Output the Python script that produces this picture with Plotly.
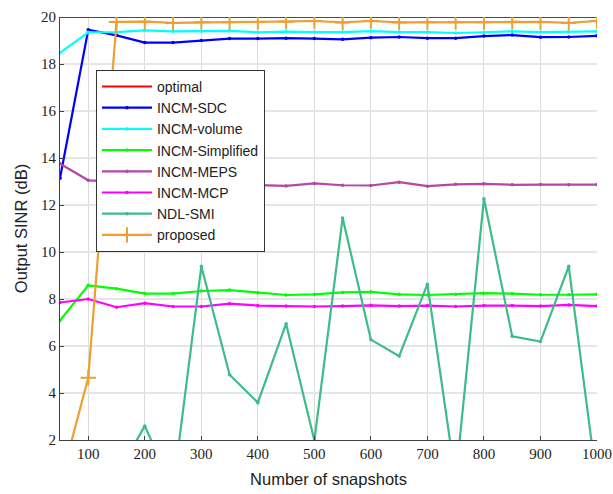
import plotly.graph_objects as go

snapshots = [50, 100, 150, 200, 250, 300, 350, 400, 450, 500,
             550, 600, 650, 700, 750, 800, 850, 900, 950, 1000]

optimal = [20.0] * 20
incm_sdc = [13.14, 19.46, 19.22, 18.91, 18.91, 19.0, 19.08, 19.08, 19.1, 19.08,
            19.05, 19.12, 19.15, 19.1, 19.1, 19.19, 19.23, 19.14, 19.15, 19.2]
incm_volume = [18.47, 19.35, 19.36, 19.43, 19.39, 19.39, 19.41, 19.35, 19.38, 19.36,
               19.36, 19.4, 19.36, 19.36, 19.32, 19.35, 19.39, 19.36, 19.36, 19.39]
incm_simplified = [7.09, 8.58, 8.44, 8.23, 8.23, 8.34, 8.38, 8.26, 8.17, 8.2,
                   8.28, 8.3, 8.2, 8.17, 8.2, 8.25, 8.23, 8.18, 8.18, 8.2]
incm_meps = [13.76, 13.05, 13.0, 12.95, 12.9, 12.9, 12.85, 12.85, 12.81, 12.92,
             12.84, 12.83, 12.97, 12.8, 12.88, 12.9, 12.86, 12.87, 12.86, 12.87]
incm_mcp = [7.85, 8.0, 7.65, 7.82, 7.68, 7.68, 7.8, 7.72, 7.7, 7.68,
            7.7, 7.73, 7.7, 7.72, 7.68, 7.72, 7.72, 7.7, 7.75, 7.7]
ndl_smi = [0.3, 1.0, 0.46, 2.6, -0.1, 9.39, 4.78, 3.59, 6.95, 1.98,
           11.45, 6.27, 5.57, 8.63, 0.3, 12.27, 6.41, 6.19, 9.39, 0.15]
proposed = [0.1, 4.65, 19.79, 19.8, 19.75, 19.78, 19.78, 19.79, 19.8, 19.83,
            19.77, 19.83, 19.77, 19.78, 19.78, 19.78, 19.8, 19.79, 19.75, 19.83]

x_ticks = [100, 200, 300, 400, 500, 600, 700, 800, 900, 1000]
y_ticks = [2, 4, 6, 8, 10, 12, 14, 16, 18, 20]

series = [
    ("optimal", optimal, "#FF0000", None),
    ("INCM-SDC", incm_sdc, "#0000FF", "circle"),
    ("INCM-volume", incm_volume, "#00FFFF", "circle"),
    ("INCM-Simplified", incm_simplified, "#00FF00", "circle"),
    ("INCM-MEPS", incm_meps, "#B446A6", "circle"),
    ("INCM-MCP", incm_mcp, "#FF00FF", "circle"),
    ("NDL-SMI", ndl_smi, "#3DBB8A", "circle"),
    ("proposed", proposed, "#EDA031", "cross-thin-open"),
]

fig = go.Figure()
for name, vals, color, sym in series:
    if sym is None:
        mode = "lines"
        marker = None
    elif sym == "cross-thin-open":
        mode = "lines+markers"
        marker = dict(symbol=sym, size=11, color=color, line=dict(width=2, color=color))
    else:
        mode = "lines+markers"
        marker = dict(symbol=sym, size=3.5, color=color)
    fig.add_trace(go.Scatter(
        x=snapshots, y=vals, name=name, mode=mode,
        line=dict(color=color, width=2.2),
        marker=marker,
    ))

fig.update_layout(
    width=613, height=494,
    margin=dict(l=60, r=16, t=17, b=54),
    plot_bgcolor="white", paper_bgcolor="white",
    showlegend=True,
    legend=dict(
        x=0.067, y=0.875, xanchor="left", yanchor="top",
        bgcolor="white", bordercolor="#333333", borderwidth=1,
        font=dict(family="Liberation Sans, Arial, sans-serif", size=14, color="#222222"),
        tracegroupgap=0, itemwidth=50,
    ),
)
fig.update_xaxes(
    range=[50, 1000], tickvals=x_ticks, automargin=False,
    showgrid=True, gridcolor="#DCDCDC", gridwidth=1,
    showline=True, linecolor="#404040", linewidth=1.2,
    ticks="inside", ticklen=4, tickcolor="#404040",
    tickfont=dict(family="Liberation Serif, DejaVu Serif, serif", size=15, color="#222222"),
    title=dict(text="Number of snapshots", standoff=12,
               font=dict(family="Liberation Sans, Arial, sans-serif", size=16.5, color="#222222")),
    zeroline=False,
)
fig.update_yaxes(
    range=[2, 20], tickvals=y_ticks, automargin=False,
    showgrid=True, gridcolor="#E6E6E6", gridwidth=1.5,
    showline=True, linecolor="#404040", linewidth=1.2,
    ticks="inside", ticklen=4, tickcolor="#404040",
    tickfont=dict(family="Liberation Serif, DejaVu Serif, serif", size=15, color="#222222"),
    title=dict(text="Output SINR (dB)", standoff=9,
               font=dict(family="Liberation Sans, Arial, sans-serif", size=16.5, color="#222222")),
    zeroline=False,
)

fig.write_html("out.html")
